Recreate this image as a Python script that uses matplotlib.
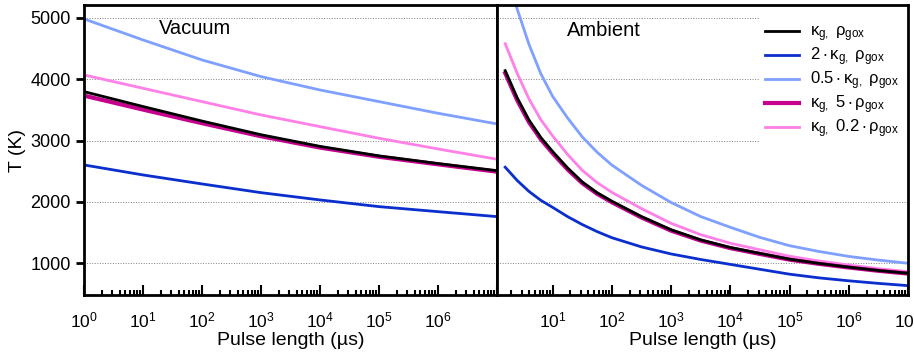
import matplotlib.pyplot as plt
from matplotlib.ticker import LogLocator, NullFormatter

plt.rcParams['font.family'] = ['Liberation Sans', 'DejaVu Sans']
plt.rcParams['mathtext.fontset'] = 'custom'
plt.rcParams['mathtext.rm'] = 'Liberation Sans'
plt.rcParams['mathtext.it'] = 'Liberation Sans'

# vacuum panel, pulse length in us
vac_t = [1, 10, 100, 1e3, 1e4, 1e5, 1e6, 1e7]
vac_base = [3798, 3555, 3318, 3095, 2905, 2750, 2625, 2509]
vac_2k = [2602, 2439, 2292, 2150, 2031, 1922, 1840, 1759]
vac_05k = [4984, 4641, 4315, 4043, 3825, 3635, 3445, 3271]
vac_5rho = [3733, 3505, 3283, 3070, 2885, 2735, 2612, 2492]
vac_02rho = [4070, 3853, 3635, 3418, 3227, 3037, 2863, 2695]

# ambient panel
amb_t = [1.58, 2.51, 3.98, 6.31, 10, 17.8, 31.6, 56.2, 100, 316, 1e3, 3160,
         1e4, 3.16e4, 1e5, 3.16e5, 1e6, 3.16e6, 1e7]
amb_base = [4140, 3700, 3335, 3050, 2820, 2555, 2325, 2150, 2010, 1760, 1545,
            1380, 1255, 1160, 1065, 995, 935, 880, 835]
amb_2k = [2565, 2350, 2170, 2025, 1910, 1760, 1630, 1515, 1415, 1265, 1150,
          1060, 980, 900, 820, 760, 712, 670, 633]
amb_05k = [5750, 5150, 4570, 4090, 3720, 3370, 3060, 2810, 2600, 2270, 1990,
           1760, 1585, 1420, 1285, 1190, 1110, 1050, 998]
amb_5rho = [4100, 3660, 3300, 3020, 2792, 2530, 2305, 2132, 1993, 1745, 1530,
            1368, 1245, 1150, 1057, 988, 929, 875, 830]
amb_02rho = [4580, 4100, 3680, 3340, 3075, 2775, 2515, 2315, 2155, 1890, 1650,
             1465, 1325, 1218, 1113, 1035, 970, 910, 862]

labels = [r'$\mathregular{\kappa_{g,}\ \rho_{gox}}$',
          r'$\mathregular{2\cdot\kappa_{g,}\ \rho_{gox}}$',
          r'$\mathregular{0.5\cdot\kappa_{g,}\ \rho_{gox}}$',
          r'$\mathregular{\kappa_{g,}\ 5\cdot\rho_{gox}}$',
          r'$\mathregular{\kappa_{g,}\ 0.2\cdot\rho_{gox}}$']
colors = ['black', '#0a2fcc', '#7fa0ff', '#c4008c', '#ff80e6']
widths = [2.0, 2.0, 2.0, 3.0, 2.0]

fig = plt.figure(figsize=(9.14, 3.62), dpi=100)
ax1 = fig.add_axes([0.0919, 0.185, 0.4519, 0.801])
ax2 = fig.add_axes([0.5438, 0.185, 0.4496, 0.801])

vac = [vac_base, vac_2k, vac_05k, vac_5rho, vac_02rho]
amb = [amb_base, amb_2k, amb_05k, amb_5rho, amb_02rho]
order = [4, 2, 1, 3, 0]  # black drawn over magenta
for i in order:
    ax1.plot(vac_t, vac[i], color=colors[i], lw=widths[i])
    ax2.plot(amb_t, amb[i], color=colors[i], lw=widths[i], label=labels[i])

for ax in (ax1, ax2):
    ax.set_xscale('log')
    ax.set_ylim(480, 5210)
    ax.set_yticks([1000, 2000, 3000, 4000, 5000])
    ax.grid(axis='y', color='gray', linestyle=':', lw=0.7)
    for s in ax.spines.values():
        s.set_linewidth(2)
    ax.xaxis.set_minor_locator(LogLocator(base=10, subs=range(2, 10), numticks=100))
    ax.xaxis.set_minor_formatter(NullFormatter())
    ax.tick_params(axis='x', which='major', direction='in', length=7, width=1.5,
                   labelsize=12.5, pad=11)
    ax.tick_params(axis='x', which='minor', direction='in', length=3.5, width=1.5)
    ax.set_xlabel('Pulse length (µs)', fontsize=14, labelpad=1)

ax1.set_xlim(1, 1e7)
ax2.set_xlim(1.15, 1e7)
ax1.set_xticks([10**k for k in range(8)],
               [r'$\mathregular{10^{%d}}$' % k for k in range(7)] + [''])
ax2.set_xticks([10**k for k in range(1, 8)],
               [r'$\mathregular{10^{%d}}$' % k for k in range(1, 8)])
ax1.tick_params(axis='y', direction='out', length=6, width=2, labelsize=13)
ax2.tick_params(axis='y', length=0, labelleft=False)
ax1.set_ylabel('T (K)', fontsize=14, labelpad=3)

ax1.text(0.27, 0.90, 'Vacuum', transform=ax1.transAxes, ha='center', fontsize=14.5)
ax2.text(0.26, 0.895, 'Ambient', transform=ax2.transAxes, ha='center', fontsize=14.5)

h, l = ax2.get_legend_handles_labels()
idx = [l.index(x) for x in labels]
leg = ax2.legend([h[i] for i in idx], labels, loc='upper right', frameon=True,
                 fontsize=12, handlelength=2.0, handletextpad=0.7, labelspacing=0.08,
                 bbox_to_anchor=(0.995, 0.955), borderaxespad=0, fancybox=False)
leg.get_frame().set_edgecolor('none')
leg.get_frame().set_facecolor('white')
leg.get_frame().set_alpha(1)

fig.savefig('out.png', dpi=100)
